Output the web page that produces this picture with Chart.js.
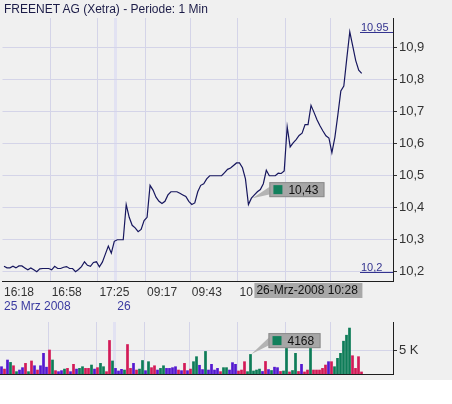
<!DOCTYPE html>
<html lang="de">

<head>
    <meta charset="UTF-8" />
    <title>FREENET AG (Xetra)</title>
    <script src="https://cdn.jsdelivr.net/npm/chart.js"></script>
    <style>
        body { margin: 0; background: #ffffff; }
        .panel { position: relative; width: 452px; height: 380px; background: #f0f0f0; }
        .titel { position: absolute; left: 4px; top: 2px; font: 12px "Liberation Sans", Arial, sans-serif; color: #1c1c48; }
        #kurs { position: absolute; left: 0; top: 0; }
        #volumen { position: absolute; left: 0; top: 318px; }
    </style>
</head>

<body>
    <div class="panel">
        <canvas id="kurs" width="452" height="318"></canvas>
        <canvas id="volumen" width="452" height="62"></canvas>
        <div class="titel">FREENET AG (Xetra) - Periode: 1 Min</div>
    </div>

<script>
    // Kurs pro Minute (Schlusskurs)
    const kurse = [
        10.217, 10.212, 10.212, 10.217, 10.212, 10.218, 10.218, 10.212, 10.206, 10.212,
        10.206, 10.20, 10.209, 10.21, 10.21, 10.21, 10.206, 10.217, 10.21, 10.21,
        10.214, 10.216, 10.21, 10.21, 10.20, 10.207, 10.216, 10.231, 10.22, 10.217,
        10.229, 10.231, 10.215, 10.23, 10.255, 10.28, 10.258, 10.295, 10.30, 10.30,
        10.30, 10.41, 10.37, 10.345, 10.337, 10.325, 10.332, 10.36, 10.37, 10.47,
        10.455, 10.433, 10.42, 10.413, 10.42, 10.44, 10.45, 10.45, 10.45, 10.445,
        10.44, 10.435, 10.42, 10.41, 10.415, 10.45, 10.47, 10.475, 10.49, 10.50,
        10.50, 10.50, 10.50, 10.50, 10.51, 10.52, 10.524, 10.532, 10.54, 10.54,
        10.525, 10.49, 10.41, 10.43, 10.44, 10.45, 10.457, 10.475, 10.517, 10.50,
        10.50, 10.50, 10.508, 10.507, 10.515, 10.653, 10.59, 10.603, 10.613, 10.626,
        10.633, 10.66, 10.66, 10.72, 10.698, 10.675, 10.656, 10.64, 10.625, 10.618,
        10.572, 10.62, 10.69, 10.765, 10.78, 10.867, 10.95, 10.905, 10.86, 10.83,
        10.82
    ];

    // Umsatz pro Minute
    const umsatz = [
        1600, 1100, 3000, 2500, 1800, 560, 900, 1400, 2300, 560,
        2800, 1800, 900, 1800, 4400, 1500, 5100, 3000, 770, 560,
        770, 1100, 1250, 560, 2100, 1100, 1250, 1600, 1250, 1250,
        1950, 1100, 1400, 2300, 1600, 560, 7100, 2800, 1250, 700,
        1050, 900, 6250, 1250, 2300, 900, 1100, 2900, 770, 2650,
        1400, 1800, 900, 1250, 1800, 1250, 1250, 1400, 1600, 900,
        770, 2300, 770, 1100, 2650, 3700, 1900, 1000, 4800, 900,
        2100, 900, 1250, 560, 1400, 1400, 900, 2450, 2100, 700,
        900, 2650, 560, 4168, 700, 900, 1100, 600, 2700, 1000,
        800, 1500, 1400, 600, 700, 5600, 500, 800, 4400, 600,
        2100, 500, 900, 5600, 900, 900, 900, 1250, 1950, 2650,
        2650, 1600, 3350, 4400, 6950, 8200, 9700, 3900, 1250, 3700,
        500
    ];

    // Richtung je Minute: u = steigend, d = fallend, n = unverändert
    const richtung = [
        'n','d','n','u','d','u','n','n','d','u',
        'd','n','d','n','n','n','d','u','d','n',
        'n','u','d','n','d','n','u','u','d','d',
        'u','n','d','u','u','d','d','u','n','n',
        'n','u','d','d','n','d','u','u','n','u',
        'd','d','n','u','u','n','n','n','n','d',
        'n','d','n','d','u','u','n','n','u','n',
        'n','n','n','d','u','u','n','n','n','d',
        'd','d','u','u','u','u','u','n','d','n',
        'u','n','n','d','u','u','d','u','u','d',
        'n','d','d','u','d','d','d','d','d','n',
        'd','u','u','u','u','u','u','d','d','d',
        'd'
    ];

    // Achsenbeschriftungen
    const zeitIndex = [0, 16, 32, 48, 63, 79];
    const zeitText = ['16:18', '16:58', '17:25', '09:17', '09:43', '10'];
    const datumIndex = [0, 38];
    const datumText = ['25 Mrz 2008', '26'];
    const gitterIndex = [16, 32, 38, 48, 63, 79, 95, 110];
    const tagWechsel = 38;
    const kursTicks = [10.2, 10.3, 10.4, 10.5, 10.6, 10.7, 10.8, 10.9];
    const umsatzTicks = [5000];

    // Cursor
    const cursor = 83;
    const cursorZeit = '26-Mrz-2008 10:28';

    const anzahlSlots = 131;
    const slots = Array.from({ length: anzahlSlots }, (_, i) => i);

    const farben = { u: '#0e7c58', d: '#d31a58', n: '#5419d0' };
    const schrift = '"Liberation Sans", Arial, sans-serif';
    const gitterFarbe = '#d4d4e8';
    const achsenFarbe = '#1e1e1e';

    const komma = (v, d) => v.toFixed(d).replace('.', ',');

    function gitterColor(ctx) {
        if (ctx.index === tagWechsel) return '#e2e2f2';
        return gitterIndex.includes(ctx.index) ? gitterFarbe : 'rgba(0,0,0,0)';
    }
    function gitterBreite(ctx) {
        return ctx.index === tagWechsel ? 3 : 1;
    }

    // rechte Achse: feste Breite, kein Extra-Rand für die Beschriftung
    function rechteAchse(s) {
        s.width = 59;
        s.paddingTop = 0;
        s.paddingBottom = 0;
    }

    function box(c, x, y, w, h, px, py, text) {
        // Zeiger
        c.fillStyle = '#b4b4b4';
        c.beginPath();
        c.moveTo(x + 1, y + 4);
        c.lineTo(x + 1, y + h - 3);
        c.lineTo(px + 1, py);
        c.closePath();
        c.fill();
        c.fillStyle = '#a6a6a6';
        c.fillRect(x, y, w, h);
        c.strokeStyle = '#8c8c8c';
        c.lineWidth = 1;
        c.strokeRect(x + 0.5, y + 0.5, w - 1, h - 1);
        c.fillStyle = '#12805c';
        c.fillRect(x + 4, y + 3, 9, 9);
        c.fillStyle = '#111';
        c.font = '12px ' + schrift;
        c.textBaseline = 'middle';
        c.textAlign = 'left';
        c.fillText(text, x + 19, y + h / 2 + 1);
    }

    // Hoch/Tief-Markierung, Cursorwert und Datum am Cursor
    const kursExtras = {
        id: 'kursExtras',
        afterDraw(chart) {
            const c = chart.ctx;
            const a = chart.chartArea;
            const y = chart.scales.y;
            const hoch = Math.max(...kurse);
            const tief = Math.min(...kurse);
            c.save();
            c.strokeStyle = '#33338f';
            c.fillStyle = '#33338f';
            c.lineWidth = 1;
            c.font = '11px ' + schrift;
            c.textAlign = 'left';
            c.textBaseline = 'alphabetic';
            [hoch, tief].forEach(w => {
                const py = Math.round(y.getPixelForValue(w)) + 0.5;
                c.beginPath();
                c.moveTo(a.right - 33, py);
                c.lineTo(a.right, py);
                c.stroke();
                c.fillText(komma(w, w === tief ? 1 : 2), a.right - 32, py - 2);
            });

            const p = chart.getDatasetMeta(0).data[cursor];
            box(c, p.x + 18, p.y - 16, 55, 15, p.x, p.y, komma(kurse[cursor], 2));

            // Datum am Cursor auf der Zeitachse
            const bx = p.x + 3;
            const by = a.bottom + 2;
            c.fillStyle = '#a8a8a8';
            c.fillRect(bx, by, 108, 15);
            c.fillStyle = '#111';
            c.font = '12px ' + schrift;
            c.textBaseline = 'middle';
            c.fillText(cursorZeit, bx + 2, by + 8);
            c.restore();
        }
    };

    const umsatzExtras = {
        id: 'umsatzExtras',
        afterDraw(chart) {
            const c = chart.ctx;
            const b = chart.getDatasetMeta(0).data[cursor];
            c.save();
            box(c, b.x + 18, b.y - 21, 52, 15, b.x, b.y, String(umsatz[cursor]));
            c.restore();
        }
    };

    new Chart(document.getElementById('kurs'), {
        type: 'line',
        data: {
            labels: slots,
            datasets: [{
                data: kurse,
                borderColor: '#17175e',
                borderWidth: 1.2,
                pointRadius: 0,
                tension: 0
            }]
        },
        options: {
            responsive: false,
            animation: false,
            layout: { padding: { top: 18, bottom: 3, left: 0, right: 0 } },
            plugins: { legend: { display: false }, tooltip: { enabled: false } },
            scales: {
                x: {
                    offset: true,
                    grid: { offset: true, drawTicks: false, color: gitterColor, lineWidth: gitterBreite },
                    border: { color: achsenFarbe },
                    ticks: {
                        autoSkip: false, maxRotation: 0, align: 'start', padding: 4,
                        color: '#333', font: { size: 12, family: schrift },
                        callback: (v, i) => {
                            const k = zeitIndex.indexOf(i);
                            return k >= 0 ? zeitText[k] : '';
                        }
                    },
                    afterFit: s => { s.height = 18; }
                },
                x2: {
                    type: 'category',
                    position: 'bottom',
                    offset: true,
                    grid: { display: false, drawTicks: false },
                    border: { display: false },
                    ticks: {
                        autoSkip: false, maxRotation: 0, align: 'start', padding: 0,
                        color: '#3a3aa0', font: { size: 12, family: schrift },
                        callback: (v, i) => {
                            const k = datumIndex.indexOf(i);
                            return k >= 0 ? datumText[k] : '';
                        }
                    },
                    afterFit: s => { s.height = 16; }
                },
                y: {
                    position: 'right',
                    min: 10.171,
                    max: 10.993,
                    afterBuildTicks: s => { s.ticks = kursTicks.map(v => ({ value: v })); },
                    ticks: {
                        padding: 2, color: '#333', font: { size: 13, family: schrift },
                        callback: v => komma(v, 1)
                    },
                    grid: { color: gitterFarbe, tickColor: '#333', tickLength: 4 },
                    border: { color: achsenFarbe },
                    afterFit: rechteAchse
                }
            }
        },
        plugins: [kursExtras]
    });

    new Chart(document.getElementById('volumen'), {
        type: 'bar',
        data: {
            labels: slots,
            datasets: [{
                data: umsatz,
                backgroundColor: richtung.map(r => farben[r]),
                barPercentage: 0.9,
                categoryPercentage: 1
            }]
        },
        options: {
            responsive: false,
            animation: false,
            layout: { padding: { top: 4, bottom: 6, left: 0, right: 0 } },
            plugins: { legend: { display: false }, tooltip: { enabled: false } },
            scales: {
                x: {
                    offset: true,
                    grid: { offset: true, drawTicks: false, color: gitterColor, lineWidth: gitterBreite },
                    border: { color: achsenFarbe },
                    ticks: { display: false },
                    afterFit: s => { s.height = 0; }
                },
                y: {
                    position: 'right',
                    min: 0,
                    max: 10900,
                    afterBuildTicks: s => { s.ticks = umsatzTicks.map(v => ({ value: v })); },
                    ticks: {
                        padding: 2, color: '#333', font: { size: 13, family: schrift },
                        callback: v => (v / 1000) + ' K'
                    },
                    grid: { color: gitterFarbe, tickColor: '#333', tickLength: 4 },
                    border: { color: achsenFarbe },
                    afterFit: rechteAchse
                }
            }
        },
        plugins: [umsatzExtras]
    });
</script>
</body>

</html>
